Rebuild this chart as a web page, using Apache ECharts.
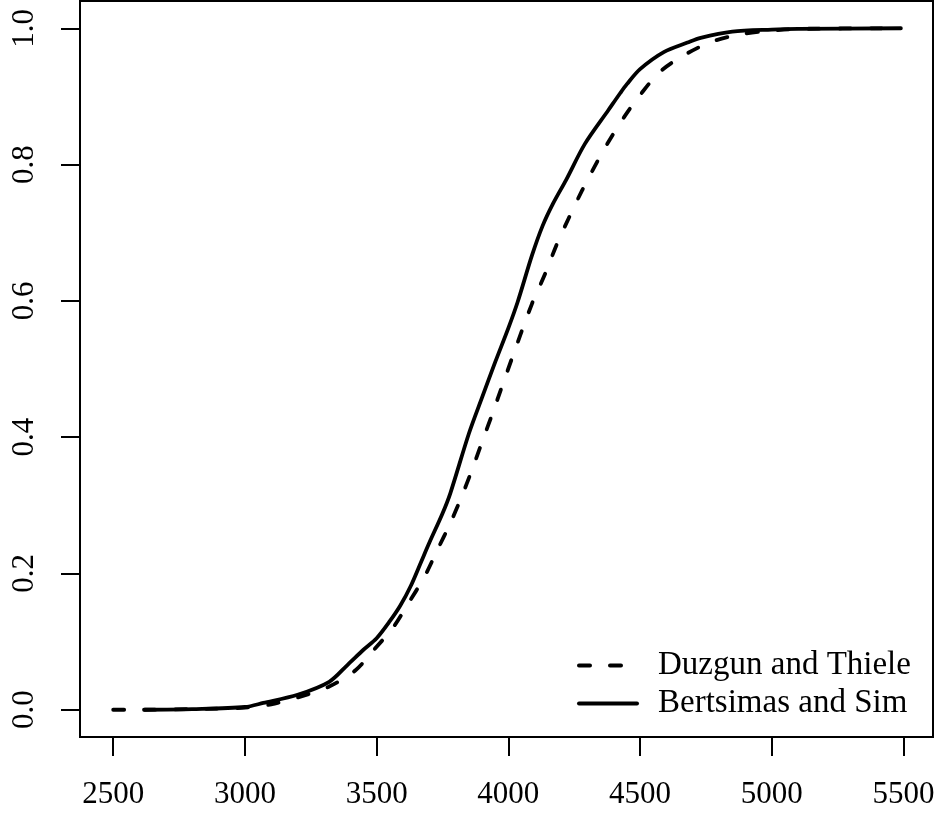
<!DOCTYPE html>
<html>
<head>
<meta charset="utf-8">
<script src="https://cdn.jsdelivr.net/npm/echarts@6/dist/echarts.min.js"></script>
<style>
html,body{margin:0;padding:0;background:#fff;}
#chart{width:940px;height:816px;}
</style>
</head>
<body>
<div id="chart"></div>
<script>
// Tick labels
const xTicks = [2500, 3000, 3500, 4000, 4500, 5000, 5500];
const yTicks = [0, 0.2, 0.4, 0.6, 0.8, 1.0];

// Series names
const seriesNames = ['Duzgun and Thiele', 'Bertsimas and Sim'];

// Duzgun and Thiele (dashed) CDF
const dtX = [2500, 2600, 2800, 3000, 3100, 3200, 3320, 3420, 3490, 3565, 3620, 3680, 3730, 3780, 3825, 3860, 3905, 3940, 4015, 4090, 4140, 4185, 4230, 4280, 4340, 4375, 4440, 4500, 4575, 4665, 4770, 4880, 4980, 5100, 5490];
const dtP = [0, 0, 0.001, 0.003, 0.008, 0.018, 0.034, 0.058, 0.088, 0.122, 0.156, 0.194, 0.234, 0.274, 0.315, 0.350, 0.398, 0.435, 0.517, 0.596, 0.640, 0.684, 0.722, 0.762, 0.806, 0.830, 0.870, 0.902, 0.936, 0.960, 0.980, 0.991, 0.996, 0.999, 1.0];

// Bertsimas and Sim (solid) CDF
const bsX = [2620, 2800, 3000, 3070, 3200, 3320, 3390, 3450, 3500, 3550, 3590, 3630, 3670, 3700, 3750, 3780, 3850, 3900, 3950, 4000, 4035, 4090, 4130, 4170, 4220, 4290, 4380, 4425, 4450, 4500, 4590, 4680, 4730, 4850, 5000, 5100, 5490];
const bsP = [0, 0.001, 0.004, 0.010, 0.022, 0.041, 0.066, 0.088, 0.105, 0.130, 0.153, 0.182, 0.218, 0.245, 0.288, 0.318, 0.405, 0.458, 0.510, 0.560, 0.598, 0.667, 0.710, 0.743, 0.778, 0.830, 0.880, 0.905, 0.918, 0.940, 0.965, 0.979, 0.986, 0.995, 0.998, 0.999, 1.0];

const FONT = 'Liberation Serif';
const pair = (xs, ys) => xs.map((x, i) => [x, ys[i]]);

const chart = echarts.init(document.getElementById('chart'), null, {renderer: 'canvas'});
chart.setOption({
  animation: false,
  backgroundColor: '#fff',
  grid: {
    left: 80, right: 7, top: 1, bottom: 79,
    show: true, borderColor: '#000', borderWidth: 2, backgroundColor: 'transparent'
  },
  xAxis: {
    type: 'value', min: 2374, max: 5612,
    axisLine: {show: false, onZero: false},
    splitLine: {show: false},
    axisTick: {show: true, inside: false, length: 19, customValues: xTicks, lineStyle: {color: '#000', width: 2}},
    axisLabel: {show: true, customValues: xTicks, margin: 42, color: '#000', fontFamily: FONT, fontSize: 31,
      formatter: v => String(v)}
  },
  yAxis: {
    type: 'value', min: -0.04, max: 1.04,
    axisLine: {show: false, onZero: false},
    splitLine: {show: false},
    axisTick: {show: true, inside: false, length: 19, customValues: yTicks, lineStyle: {color: '#000', width: 2}},
    axisLabel: {show: true, customValues: yTicks, rotate: 90, margin: 40, color: '#000', fontFamily: FONT, fontSize: 31,
      formatter: v => Number(v).toFixed(1)}
  },
  legend: {
    orient: 'vertical', left: 572, top: 644,
    itemWidth: 58, itemHeight: 14, itemGap: 5,
    data: seriesNames,
    lineStyle: {width: 4},
    itemStyle: {opacity: 0},
    textStyle: {fontFamily: FONT, fontSize: 33, color: '#000', lineHeight: 33, padding: [0, 0, 0, 16]}
  },
  series: [
    {
      name: seriesNames[0], type: 'line', data: pair(dtX, dtP), symbol: 'none', smooth: 0.3,
      lineStyle: {color: '#000', width: 3.8, type: [11, 20], cap: 'round'},
      itemStyle: {color: '#000'}
    },
    {
      name: seriesNames[1], type: 'line', data: pair(bsX, bsP), symbol: 'none', smooth: 0.3,
      lineStyle: {color: '#000', width: 3.8, type: 'solid', cap: 'round'},
      itemStyle: {color: '#000'}
    }
  ]
});
</script>
</body>
</html>
